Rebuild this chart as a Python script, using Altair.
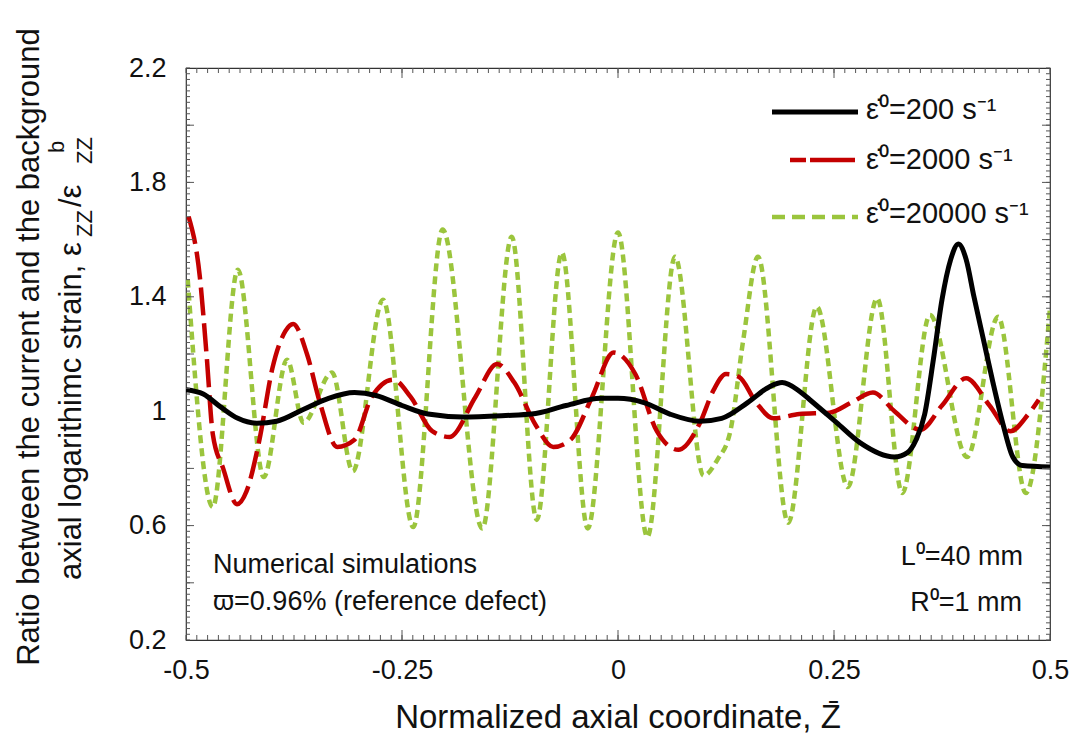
import altair as alt
import pandas as pd

# ---------------- data ----------------
x_black = [-0.5, -0.48, -0.46, -0.44, -0.418, -0.395, -0.365, -0.335, -0.305, -0.28, -0.25,
           -0.22, -0.18, -0.13, -0.1, -0.06, -0.02, 0.0, 0.03, 0.06, 0.095, 0.12, 0.15, 0.175,
           0.19, 0.21, 0.222, 0.253, 0.28, 0.32, 0.335, 0.345, 0.355, 0.365, 0.375, 0.385,
           0.394, 0.403, 0.412, 0.423, 0.434, 0.446, 0.457, 0.468, 0.5]
y_black = [1.075, 1.06, 1.015, 0.975, 0.958, 0.965, 1.005, 1.045, 1.065, 1.055, 1.02,
           0.99, 0.98, 0.985, 0.99, 1.02, 1.045, 1.045, 1.03, 0.99, 0.965, 0.975, 1.03, 1.085,
           1.10, 1.07, 1.04, 0.96, 0.89, 0.84, 0.855, 0.90, 0.99, 1.18, 1.39, 1.53,
           1.585, 1.53, 1.40, 1.25, 1.10, 0.95, 0.84, 0.81, 0.805]

x_red = [-0.497, -0.484, -0.476, -0.469, -0.457, -0.441, -0.43, -0.415, -0.4, -0.385, -0.376,
         -0.36, -0.345, -0.325, -0.305, -0.285, -0.26, -0.24, -0.215, -0.195, -0.165, -0.14,
         -0.12, -0.095, -0.075, -0.055, -0.03, -0.005, 0.02, 0.045, 0.07, 0.095, 0.11, 0.125,
         0.14, 0.16, 0.18, 0.21, 0.245, 0.27, 0.295, 0.32, 0.35, 0.375, 0.403, 0.43, 0.454,
         0.475, 0.487]
y_red = [1.68, 1.47, 1.19, 0.92, 0.80, 0.675, 0.72, 0.90, 1.15, 1.28, 1.305,
         1.20, 1.03, 0.875, 0.90, 1.05, 1.11, 1.05, 0.93, 0.91, 1.05, 1.165,
         1.10, 0.95, 0.875, 0.90, 1.05, 1.205, 1.13, 0.93, 0.865, 0.96, 1.07, 1.13,
         1.12, 1.03, 0.975, 0.99, 0.995, 1.03, 1.065, 1.0, 0.935, 1.02, 1.115, 1.02, 0.93,
         0.99, 1.04]

x_green = [-0.498, -0.469, -0.44, -0.41, -0.383, -0.364, -0.331, -0.307, -0.272, -0.237,
           -0.203, -0.157, -0.123, -0.094, -0.065, -0.035, 0.0, 0.034, 0.066, 0.099, 0.115,
           0.13, 0.145, 0.162, 0.197, 0.23, 0.266, 0.3, 0.329, 0.361, 0.404, 0.44, 0.472, 0.5]
y_green = [1.46, 0.665, 1.495, 0.77, 1.18, 0.96, 1.135, 0.79, 1.39, 0.595,
           1.635, 0.59, 1.61, 0.62, 1.555, 0.59, 1.625, 0.56, 1.54, 0.775, 0.83,
           0.93, 1.25, 1.54, 0.61, 1.365, 0.735, 1.395, 0.714, 1.336, 0.84, 1.33, 0.714, 1.36]

x_tick_labels = [-0.5, -0.25, 0, 0.25, 0.5]
y_tick_labels = [0.2, 0.6, 1, 1.4, 1.8, 2.2]
x_minor_ticks = [round(-0.5 + 0.0125 * i, 4) for i in range(81)]
x_major_ticks = [-0.25, 0, 0.25]
y_minor_ticks = [round(0.2 + 0.02 * i, 4) for i in range(101)]
y_major_ticks = [0.4, 0.6, 0.8, 1.0, 1.2, 1.4, 1.6, 1.8, 2.0]

legend_labels = ["\u03b5\u0307\u2070=200 s\u207b\u00b9",
                 "\u03b5\u0307\u2070=2000 s\u207b\u00b9",
                 "\u03b5\u0307\u2070=20000 s\u207b\u00b9"]

# ---------------- styling ----------------
W, H = 864, 572
FONT = "Liberation Sans"
BLACK, RED, GREEN = "#000000", "#c40000", "#9bc53d"

xs = alt.Scale(domain=[-0.5, 0.5], nice=False, zero=False)
ys = alt.Scale(domain=[0.2, 2.2], nice=False, zero=False)

x_axis = alt.Axis(values=x_tick_labels, labelExpr="'' + datum.value", ticks=False, domain=False,
                  grid=False, labelFontSize=27, labelFont=FONT, labelColor="#111",
                  labelPadding=17, title=None, labelFlush=False)
y_axis = alt.Axis(values=y_tick_labels, labelExpr="'' + datum.value", ticks=False, domain=False,
                  grid=False, labelFontSize=27, labelFont=FONT, labelColor="#111",
                  labelPadding=20, title=None)


def curve(xv, yv, color, width, dash=None):
    df = pd.DataFrame({"x": xv, "y": yv})
    kw = dict(color=color, strokeWidth=width, interpolate="monotone", clip=True,
              strokeCap="butt")
    if dash:
        kw["strokeDash"] = dash
    return alt.Chart(df).mark_line(**kw).encode(
        x=alt.X("x:Q", scale=xs, axis=x_axis),
        y=alt.Y("y:Q", scale=ys, axis=y_axis),
        order=alt.Order("x:Q"),
    )


green = curve(x_green, y_green, GREEN, 4.5, [8, 5])
red = curve(x_red, y_red, RED, 4.5, [28, 8])
black = curve(x_black, y_black, BLACK, 5)


def xticks(vals, length):
    df = pd.DataFrame({"v": vals})
    bottom = alt.Chart(df).mark_rule(color="#555", strokeWidth=1).encode(
        x=alt.X("v:Q", scale=xs, axis=x_axis), y=alt.value(H), y2=alt.value(H - length))
    top = alt.Chart(df).mark_rule(color="#555", strokeWidth=1).encode(
        x=alt.X("v:Q", scale=xs, axis=x_axis), y=alt.value(0), y2=alt.value(length))
    return bottom + top


def yticks(vals, length):
    df = pd.DataFrame({"v": vals})
    left = alt.Chart(df).mark_rule(color="#555", strokeWidth=1).encode(
        y=alt.Y("v:Q", scale=ys, axis=y_axis), x=alt.value(0), x2=alt.value(length))
    right = alt.Chart(df).mark_rule(color="#555", strokeWidth=1).encode(
        y=alt.Y("v:Q", scale=ys, axis=y_axis), x=alt.value(W), x2=alt.value(W - length))
    return left + right


ticks = xticks(x_minor_ticks, 5) + xticks(x_major_ticks, 10) + \
    yticks(y_minor_ticks, 4) + yticks(y_major_ticks, 8)

one = alt.Data(values=[{"a": 1}])


def txt(s, x, y, size, align="left", angle=0, baseline="middle"):
    return alt.Chart(one).mark_text(text=s, font=FONT, fontSize=size, align=align,
                                    baseline=baseline, angle=angle, color="#111").encode(
        x=alt.value(x), y=alt.value(y))


def legline(x1, x2, y, color, width, dash=None):
    kw = dict(color=color, strokeWidth=width, strokeCap="butt")
    if dash:
        kw["strokeDash"] = dash
    return alt.Chart(one).mark_rule(**kw).encode(x=alt.value(x1), x2=alt.value(x2), y=alt.value(y))


legend = (legline(586, 672, 44, BLACK, 5) +
          legline(604, 669, 92, RED, 4.5, [16, 4, 46, 4]) +
          legline(586, 672, 149, GREEN, 4.5, [13, 7]) +
          txt(legend_labels[0], 680, 42, 29) +
          txt(legend_labels[1], 680, 92, 29) +
          txt(legend_labels[2], 680, 146, 29))

notes = (txt("Numerical simulations", 27, 497, 27) +
         txt("\u03d6=0.96% (reference defect)", 27, 534, 27) +
         txt("L\u2070=40 mm", 837, 489, 27, align="right") +
         txt("R\u2070=1 mm", 836, 535, 27, align="right"))

titles = (txt("Normalized axial coordinate, Z\u0304", 432, 650, 33, align="center") +
          txt("Ratio between the current and the background", -156, 279, 31,
              align="center", angle=270) +
          txt("axial logarithimc strain, \u03b5", -114, 512, 31, angle=270) +
          txt("ZZ", -101, 169, 22, angle=270) +
          txt("/\u03b5", -114, 139, 31, angle=270) +
          txt("b", -129, 85, 22, angle=270) +
          txt("ZZ", -101, 96, 22, angle=270))

chart = alt.layer(green, red, black, ticks, legend, notes, titles).properties(
    width=W, height=H,
    autosize=alt.AutoSizeParams(type="none"),
    padding={"left": 186, "top": 68, "right": 30, "bottom": 102},
    background="white",
).configure_view(stroke="#333", strokeWidth=1.2)

chart.save("out.html", embed_options={"renderer": "svg", "actions": False})
